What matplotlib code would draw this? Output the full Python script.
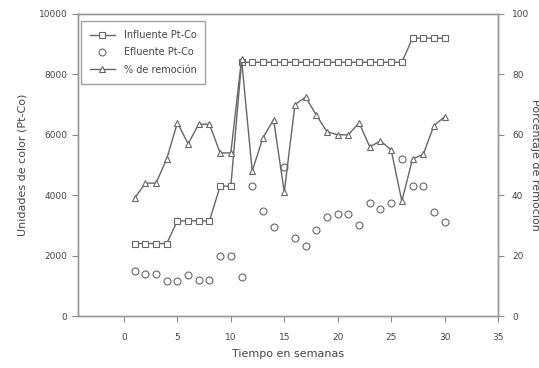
import matplotlib
matplotlib.use("Agg")
import matplotlib.pyplot as plt

weeks = list(range(1, 31))
influente = [2400, 2400, 2400, 2400, 3150, 3150, 3150, 3150, 4300, 4300,
             8400, 8400, 8400, 8400, 8400, 8400, 8400, 8400, 8400, 8400,
             8400, 8400, 8400, 8400, 8400, 8400, 9200, 9200, 9200, 9200]
efluente = [1500, 1380, 1380, 1150, 1150, 1350, 1200, 1200, 2000, 2000,
            1280, 4320, 3480, 2950, 4950, 2570, 2310, 2840, 3290, 3370,
            3370, 3020, 3750, 3540, 3750, 5200, 4300, 4300, 3450, 3120]
remocion = [39, 44, 44, 52, 64, 57, 63.5, 63.5, 54, 54,
            85, 48, 59, 65, 41, 70, 72.5, 66.5, 61, 60,
            60, 64, 56, 58, 55, 38, 52, 53.5, 63, 66]

xticks = [0, 5, 10, 15, 20, 25, 30, 35]
yticks_left = [0, 2000, 4000, 6000, 8000, 10000]
yticks_right = [0, 20, 40, 60, 80, 100]

col = "#666666"
tcol = "#444444"
plt.rcParams['font.family'] = ['DejaVu Sans']

fig = plt.figure(figsize=(5.39, 3.68), dpi=100)
ax = fig.add_axes([0.1447, 0.1413, 0.924 - 0.1447, 0.962 - 0.1413])
ax2 = ax.twinx()

l1, = ax.plot(weeks, influente, color=col, lw=1.0, marker='s', ms=4,
              mfc='white', mec=col, mew=0.8, label='Influente Pt-Co')
l2, = ax.plot(weeks, efluente, color=col, lw=0, marker='o', ms=5,
              mfc='white', mec=col, mew=0.8, label='Efluente Pt-Co')
l3, = ax2.plot(weeks, remocion, color=col, lw=1.0, marker='^', ms=4.5,
               mfc='white', mec=col, mew=0.8, label='% de remoción')

ax.set_xlim(-4.3, 35)
ax.set_ylim(0, 10000)
ax2.set_ylim(0, 100)
ax.set_xticks(xticks)
ax.set_yticks(yticks_left)
ax2.set_yticks(yticks_right)

for a in (ax, ax2):
    a.tick_params(direction='out', length=4, width=0.8, colors='#888888',
                  labelsize=6.5, labelcolor=tcol)
    for s in a.spines.values():
        s.set_color('#999999')
        s.set_linewidth(1.0)
ax.tick_params(axis='x', pad=8)
ax2.tick_params(axis='y', pad=6)

ax.set_xlabel('Tiempo en semanas', fontsize=8, color=tcol, labelpad=5)
ax.set_ylabel('Unidades de color (Pt-Co)', fontsize=8, color=tcol, labelpad=8)
ax2.set_ylabel('Porcentaje de remoción', fontsize=8, color=tcol,
               rotation=270, labelpad=8)

leg = ax.legend(handles=[l1, l2, l3], loc='upper left',
                bbox_to_anchor=(0.0, 0.985), fontsize=7, frameon=True,
                fancybox=False, handlelength=2.6, borderpad=0.9,
                labelspacing=0.75, handletextpad=0.9, borderaxespad=0.3)
leg.get_frame().set_edgecolor('#888888')
leg.get_frame().set_linewidth(1.0)
for t in leg.get_texts():
    t.set_color(tcol)

fig.savefig('out.png', dpi=100)
